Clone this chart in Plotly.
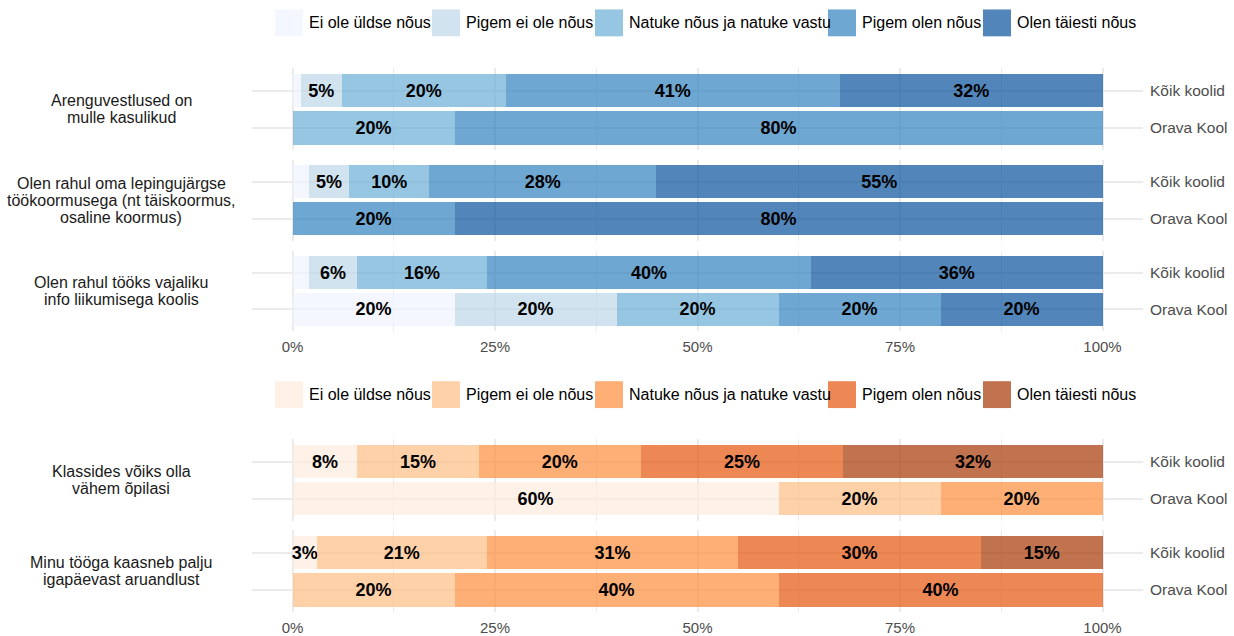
import plotly.graph_objects as go

W, H = 1234, 636

# ---------------- data ----------------
responses = ["Ei ole üldse nõus", "Pigem ei ole nõus", "Natuke nõus ja natuke vastu",
             "Pigem olen nõus", "Olen täiesti nõus"]
groups = ["Kõik koolid", "Orava Kool"]

q_arengu = ["Arenguvestlused on", "mulle kasulikud"]
q_leping = ["Olen rahul oma lepingujärgse", "töökoormusega (nt täiskoormus,", "osaline koormus)"]
q_info = ["Olen rahul tööks vajaliku", "info liikumisega koolis"]
q_klass = ["Klassides võiks olla", "vähem õpilasi"]
q_aruanne = ["Minu tööga kaasneb palju", "igapäevast aruandlust"]

arengu_koik = [1.0, 5.1, 20.2, 41.3, 32.4]
arengu_orava = [0, 0, 20, 80, 0]
leping_koik = [2.0, 5.0, 9.9, 28.0, 55.1]
leping_orava = [0, 0, 0, 20, 80]
info_koik = [2.0, 6.0, 16.0, 40.0, 36.0]
info_orava = [20, 20, 20, 20, 20]
klass_koik = [8.0, 15.0, 20.0, 25.0, 32.0]
klass_orava = [60, 20, 20, 0, 0]
aruanne_koik = [3.0, 21.0, 31.0, 30.0, 15.0]
aruanne_orava = [0, 20, 40, 40, 0]

x_ticks = [0, 25, 50, 75, 100]
x_tick_labels = ["0%", "25%", "50%", "75%", "100%"]
x_minor = [12.5, 37.5, 62.5, 87.5]

# ---------------- styles ----------------
blues = ["#eff3ff", "#bdd7e7", "#6baed6", "#3182bd", "#08519c"]
oranges = ["#feedde", "#fdbe85", "#fd8d3c", "#e6550d", "#a63603"]
ALPHA = 0.7
GRID = "#ebebeb"
FONT = "Liberation Sans, Arial, sans-serif"


def rgba(h, a=ALPHA):
    h = h.lstrip("#")
    r, g, b = int(h[0:2], 16), int(h[2:4], 16), int(h[4:6], 16)
    return f"rgba({r},{g},{b},{a})"


def lab(v):
    return f"{round(v)}%" if v >= 2.5 else ""


panels = [
    (q_arengu, arengu_koik, arengu_orava, blues),
    (q_leping, leping_koik, leping_orava, blues),
    (q_info, info_koik, info_orava, blues),
    (q_klass, klass_koik, klass_orava, oranges),
    (q_aruanne, aruanne_koik, aruanne_orava, oranges),
]
panel_px = [(68.5, 151), (160.5, 242), (252, 333), (441.5, 523.5), (533, 615)]
bottom_panels = {2, 4}
x_dom = [252 / W, 1143 / W]

fig = go.Figure()
layout = {}
annotations = []
shapes = []

for i, (qlines, koik, orava, pal) in enumerate(panels):
    n = i + 1
    xa = "x" if n == 1 else f"x{n}"
    ya = "y" if n == 1 else f"y{n}"
    for r in range(len(responses)):
        vals = [koik[r], orava[r]]
        fig.add_trace(go.Bar(
            x=vals, y=groups, orientation="h", xaxis=xa, yaxis=ya,
            name=responses[r], showlegend=False,
            marker=dict(color=rgba(pal[r]), line=dict(width=0)),
            text=[lab(v) for v in vals], textposition="inside", textangle=0,
            insidetextanchor="middle", constraintext="none", cliponaxis=False,
            textfont=dict(size=18, color="black", family=FONT, weight="bold"),
            hovertemplate="%{y}: %{x}%<extra>" + responses[r] + "</extra>",
        ))
    top, bot = panel_px[i]
    suffix = "" if n == 1 else str(n)
    layout["xaxis" + suffix] = dict(
        domain=x_dom, range=[-5, 105], anchor=ya,
        tickmode="array", tickvals=x_ticks, ticktext=x_tick_labels,
        showticklabels=(i in bottom_panels), ticks="",
        tickfont=dict(size=15, color="#4d4d4d", family=FONT),
        ticklabelstandoff=5,
        showgrid=True, gridcolor=GRID, gridwidth=1.6,
        zeroline=False, showline=False,
        minor=dict(tickmode="array", tickvals=x_minor, showgrid=True,
                   gridcolor=GRID, gridwidth=1.0, ticks=""),
        fixedrange=True,
    )
    layout["yaxis" + suffix] = dict(
        domain=[1 - bot / H, 1 - top / H], anchor=xa,
        type="category", categoryorder="array", categoryarray=groups,
        range=[1.6, -0.6], side="right", ticks="",
        tickfont=dict(size=15.5, color="#4d4d4d", family=FONT),
        ticklabelstandoff=6,
        showgrid=True, gridcolor=GRID, gridwidth=1.6,
        zeroline=False, showline=False, fixedrange=True,
    )
    # facet strip labels (left)
    c = (top + bot) / 2
    nl = len(qlines)
    for j, line in enumerate(qlines):
        ypx = c + (j - (nl - 1) / 2) * 17
        annotations.append(dict(
            text=line, xref="paper", yref="paper", x=121 / W, y=1 - ypx / H,
            xanchor="center", yanchor="middle", showarrow=False,
            font=dict(size=16, color="#1a1a1a", family=FONT),
        ))

# ---------------- custom legends ----------------
legend_x = [275, 432, 595, 828, 983]
legend_centers = [(23, blues), (396.5, oranges)]
for cy, pal in legend_centers:
    for r, name in enumerate(responses):
        lx = legend_x[r]
        shapes.append(dict(
            type="rect", xref="paper", yref="paper",
            x0=lx / W, x1=(lx + 28) / W,
            y0=1 - (cy + 13.5) / H, y1=1 - (cy - 13.5) / H,
            fillcolor=rgba(pal[r]), line=dict(width=0),
        ))
        annotations.append(dict(
            text=name, xref="paper", yref="paper", x=(lx + 32) / W, y=1 - cy / H,
            xanchor="left", yanchor="middle", showarrow=False,
            font=dict(size=16, color="black", family=FONT),
        ))

fig.update_layout(
    **layout,
    barmode="stack", bargap=0.1,
    width=W, height=H,
    margin=dict(l=0, r=0, t=0, b=0),
    paper_bgcolor="white", plot_bgcolor="white",
    showlegend=False,
    annotations=annotations, shapes=shapes,
    font=dict(family=FONT),
)

fig.write_html(
    "out.html",
    config={"displayModeBar": False},
    post_script="document.body.style.margin='0';document.body.style.overflow='hidden';",
)
